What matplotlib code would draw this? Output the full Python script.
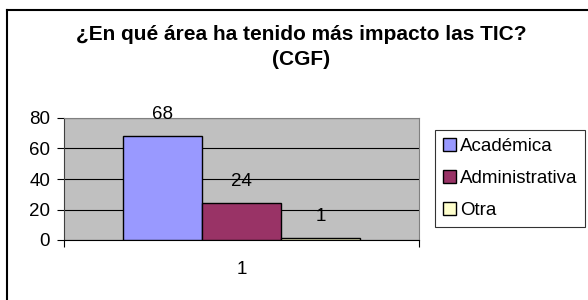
import matplotlib
matplotlib.use("Agg")
import matplotlib.pyplot as plt
from matplotlib.lines import Line2D
import numpy as np

plt.rcParams['font.family'] = ['Liberation Sans', 'DejaVu Sans']

title = "¿En qué área ha tenido más impacto las TIC?\n(CGF)"
series = ["Académica", "Administrativa", "Otra"]
values = [68, 24, 1]
colors = ["#9999FF", "#993366", "#FFFFCC"]
category = "1"
yticks = [0, 20, 40, 60, 80]

fs = 13.5

fig = plt.figure(figsize=(5.88, 3.0), dpi=100)
ax = fig.add_axes([64 / 588, 1 - 240 / 300, 355 / 588, 122 / 300])
ax.set_facecolor("#C0C0C0")

width = 1 / 4.5
offsets = (np.arange(len(values)) - 1) * width
for off, v, c, name in zip(offsets, values, colors, series):
    ax.bar(off, v, width=width, color=c, edgecolor="black", linewidth=1.0,
           label=name, zorder=3)
    ax.annotate(str(v), (off, v), xytext=(0, 16), textcoords="offset points",
                ha="center", va="center", fontsize=fs)

ax.set_xlim(-0.5, 0.5)
ax.set_ylim(0, 80)
ax.set_yticks(yticks)
ax.yaxis.grid(True, color="black", linewidth=0.8, zorder=1)
ax.set_axisbelow(True)
ax.set_xticks([-0.5, 0.5])
ax.set_xticklabels([])
ax.tick_params(axis="y", length=5, width=0.8, labelsize=fs, pad=5)
ax.tick_params(axis="x", length=5, width=0.8)
ax.text(0, -0.24, category, transform=ax.get_xaxis_transform(),
        ha="center", va="center", fontsize=fs)

for side in ["top", "right"]:
    ax.spines[side].set_color("#808080")
    ax.spines[side].set_linewidth(0.8)
ax.spines["left"].set_color("#404040")
ax.spines["bottom"].set_color("black")

fig.text(301 / 588, 1 - 47 / 300, title, ha="center", va="center",
         fontsize=15, fontweight="bold", linespacing=1.35)

leg = fig.legend(loc="upper left", bbox_to_anchor=(435 / 588, 1 - 130 / 300),
                 frameon=True, fancybox=False, edgecolor="black",
                 fontsize=fs, handlelength=0.72, handleheight=0.72,
                 handletextpad=0.2, labelspacing=0.8, borderpad=0.4,
                 borderaxespad=0)
leg.get_frame().set_linewidth(0.8)

fig.add_artist(Line2D([7 / 588, 7 / 588], [0, 1 - 10 / 300], color="black",
                      linewidth=1.5, transform=fig.transFigure))
fig.add_artist(Line2D([7 / 588, 1], [1 - 10 / 300, 1 - 10 / 300], color="black",
                      linewidth=1.5, transform=fig.transFigure))

fig.savefig("out.png", dpi=100)
